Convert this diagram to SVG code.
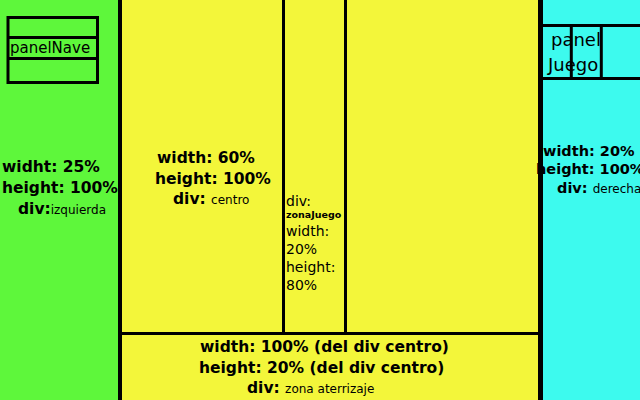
<svg xmlns="http://www.w3.org/2000/svg" width="640" height="400" viewBox="0 0 640 400">
<style>
.b{font-family:"DejaVu Sans",Verdana,sans-serif;font-weight:bold;font-size:15.5px;fill:#000}
.n{font-family:"DejaVu Sans",Verdana,sans-serif;font-weight:normal;fill:#000}
.s{font-size:12px;font-weight:normal}
.ln{stroke:#000;fill:none}
</style>
<g id="izquierda">
<rect x="0" y="0" width="120" height="400" fill="#5ef73b"/>
<text class="b" x="2" y="172">widht: 25%</text>
<text class="b" x="2" y="193">height: 100%</text>
<text class="b" x="18" y="214">div:<tspan class="s">izquierda</tspan></text>
</g>
<g id="centro">
<rect x="120" y="0" width="420" height="400" fill="#f3f63a"/>
<text class="b" x="157" y="163">width: 60%</text>
<text class="b" x="155" y="184">height: 100%</text>
<text class="b" x="173" y="204">div: <tspan class="s">centro</tspan></text>
</g>
<g id="derecha">
<rect x="540" y="0" width="100" height="400" fill="#3dfaee"/>
<text class="b" x="543" y="156" style="font-size:14.5px">width: 20%</text>
<text class="b" x="536" y="174" style="font-size:14.5px">height: 100%</text>
<text class="b" x="557" y="193" style="font-size:14.5px">div: <tspan class="s">derecha</tspan></text>
</g>
<g id="zonaJuego">
<text class="n" font-size="14" x="286" y="206">div:</text>
<text class="b" x="286" y="218" style="font-size:9.5px">zonaJuego</text>
<text class="n" font-size="14" x="286" y="236">width:</text>
<text class="n" font-size="14" x="286" y="254">20%</text>
<text class="n" font-size="14" x="286" y="272">height:</text>
<text class="n" font-size="14" x="286" y="290">80%</text>
</g>
<g id="zonaAterrizaje">
<text class="b" x="200" y="352">width: 100% (del div centro)</text>
<text class="b" x="199" y="373">height: 20% (del div centro)</text>
<text class="b" x="247" y="393">div: <tspan class="s">zona aterrizaje</tspan></text>
</g>
<g id="panelNave">
<rect class="ln" x="8" y="17.5" width="89.5" height="65" stroke-width="3"/>
<line class="ln" x1="8" y1="37.5" x2="97.5" y2="37.5" stroke-width="3"/>
<line class="ln" x1="8" y1="58.5" x2="97.5" y2="58.5" stroke-width="3"/>
<text class="n" font-size="15" x="10" y="53">panelNave</text>
</g>
<g id="panelJuego">
<line class="ln" x1="540" y1="25.5" x2="640" y2="25.5" stroke-width="3"/>
<line class="ln" x1="540" y1="78.5" x2="640" y2="78.5" stroke-width="3"/>
<line class="ln" x1="571.3" y1="25" x2="571.3" y2="79" stroke-width="3"/>
<line class="ln" x1="601.3" y1="25" x2="601.3" y2="79" stroke-width="3"/>
<text class="n" font-size="18" x="551" y="46">panel</text>
<text class="n" font-size="18" x="548" y="71">Juego</text>
</g>
<g id="connectors">
<line class="ln" x1="120" y1="0" x2="120" y2="400" stroke-width="4"/>
<line class="ln" x1="540.5" y1="0" x2="540.5" y2="400" stroke-width="5"/>
<line class="ln" x1="120" y1="333.5" x2="540" y2="333.5" stroke-width="3"/>
<line class="ln" x1="283.5" y1="0" x2="283.5" y2="333" stroke-width="3"/>
<line class="ln" x1="345.5" y1="0" x2="345.5" y2="333" stroke-width="3"/>
</g>
</svg>
